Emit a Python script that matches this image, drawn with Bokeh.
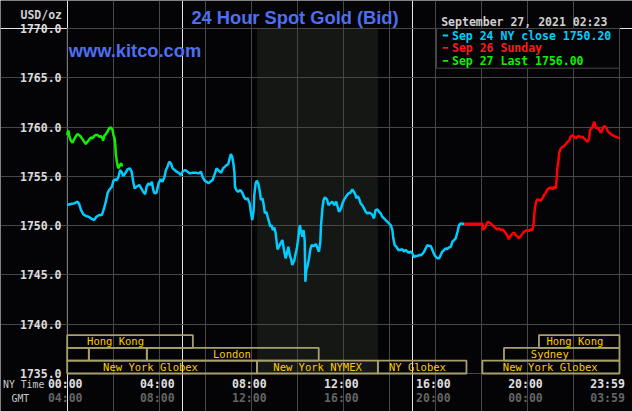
from bokeh.plotting import figure
from bokeh.models import Range1d, FixedTicker, ColumnDataSource, Grid
from bokeh.core.properties import value
from bokeh.embed import file_html
from bokeh.resources import INLINE

# ---------------- data ----------------
sep24_hours = [0.00, 0.16, 0.30, 0.45, 0.52, 0.59, 0.69, 0.81, 0.93, 1.03, 1.17, 1.27, 1.39, 1.51, 1.61, 1.68,
               1.75, 1.82, 1.94, 2.01, 2.09, 2.16, 2.23, 2.30, 2.38, 2.43, 2.52, 2.62, 2.72, 2.80, 2.87, 2.93,
               3.01, 3.13, 3.22, 3.30, 3.39, 3.45, 3.53, 3.62, 3.68, 3.74, 3.80, 3.88, 3.97, 4.06, 4.14, 4.23,
               4.29, 4.36, 4.43, 4.51, 4.58, 4.67, 4.75, 4.83, 4.94, 5.01, 5.13, 5.23, 5.33, 5.45, 5.59, 5.71,
               5.81, 5.88, 5.97, 6.06, 6.14, 6.23, 6.32, 6.42, 6.49, 6.59, 6.69, 6.77, 6.88, 7.00, 7.06, 7.11,
               7.17, 7.23, 7.27, 7.29, 7.35, 7.43, 7.52, 7.61, 7.68, 7.75, 7.84, 7.93, 7.98, 8.04, 8.10, 8.13,
               8.19, 8.24, 8.30, 8.36, 8.42, 8.48, 8.53, 8.59, 8.65, 8.71, 8.77, 8.83, 8.88, 8.94, 9.00, 9.06,
               9.10, 9.14, 9.20, 9.27, 9.35, 9.42, 9.49, 9.55, 9.61, 9.67, 9.72, 9.78, 9.87, 9.93, 9.98, 10.04,
               10.11, 10.16, 10.22, 10.27, 10.32, 10.35, 10.39, 10.45, 10.51, 10.56, 10.62, 10.71, 10.80, 10.88,
               10.94, 11.00, 11.03, 11.09, 11.14, 11.20, 11.29, 11.35, 11.43, 11.52, 11.61, 11.69, 11.75, 11.81,
               11.90, 11.96, 12.04, 12.13, 12.22, 12.30, 12.39, 12.48, 12.53, 12.56, 12.62, 12.68, 12.75, 12.82,
               12.90, 12.97, 13.04, 13.11, 13.19, 13.26, 13.33, 13.40, 13.48, 13.55, 13.62, 13.69, 13.77, 13.84,
               13.91, 13.98, 14.06, 14.13, 14.17, 14.23, 14.30, 14.39, 14.46, 14.56, 14.64, 14.71, 14.78, 14.85,
               14.93, 15.00, 15.07, 15.14, 15.22, 15.29, 15.36, 15.43, 15.51, 15.58, 15.65, 15.72, 15.80, 15.87,
               15.94, 16.01, 16.09, 16.16, 16.23, 16.30, 16.38, 16.45, 16.52, 16.59, 16.67, 16.74, 16.81, 16.88,
               16.96, 17.03, 17.10, 17.17, 17.25]
sep24_values = [1752.09, 1752.19, 1752.26, 1752.43, 1752.19, 1751.65, 1751.18, 1750.97, 1750.90, 1750.74, 1750.57,
                1750.90, 1751.08, 1751.08, 1751.86, 1752.43, 1753.27, 1753.61, 1753.95, 1754.56, 1754.70, 1754.63,
                1754.96, 1755.64, 1755.37, 1755.03, 1755.30, 1755.71, 1755.81, 1755.47, 1754.45, 1753.78, 1753.95,
                1754.12, 1753.78, 1753.44, 1753.20, 1753.95, 1754.29, 1754.12, 1754.45, 1753.61, 1753.27, 1753.34,
                1754.29, 1754.70, 1754.45, 1754.96, 1755.64, 1755.97, 1756.48, 1756.32, 1755.81, 1755.64, 1755.47,
                1755.37, 1755.13, 1755.47, 1755.64, 1755.47, 1755.30, 1755.37, 1755.37, 1755.30, 1755.47, 1754.96,
                1754.56, 1754.45, 1754.29, 1754.49, 1754.63, 1755.30, 1755.81, 1755.57, 1755.37, 1755.81, 1756.04,
                1756.25, 1756.82, 1757.26, 1756.99, 1756.15, 1755.30, 1753.95, 1753.61, 1753.44, 1753.61, 1753.34,
                1752.93, 1752.67, 1752.77, 1752.26, 1751.41, 1750.57, 1751.51, 1753.10, 1754.29, 1754.56, 1754.29,
                1753.61, 1752.60, 1752.77, 1752.26, 1751.25, 1751.41, 1750.90, 1750.40, 1749.89, 1750.06, 1749.55,
                1749.82, 1749.22, 1748.37, 1747.60, 1747.86, 1748.20, 1748.54, 1747.53, 1746.68, 1747.19, 1747.86,
                1747.02, 1746.68, 1746.00, 1746.51, 1747.19, 1747.70, 1748.71, 1750.06, 1749.38, 1748.87, 1749.55,
                1748.54, 1744.31, 1745.50, 1746.00, 1746.68, 1747.53, 1748.03, 1747.93, 1748.13, 1747.70, 1747.36,
                1748.37, 1750.06, 1751.75, 1752.60, 1752.87, 1752.67, 1752.09, 1752.26, 1752.43, 1752.09, 1752.43,
                1751.92, 1751.41, 1751.75, 1752.26, 1752.67, 1753.00, 1753.27, 1753.34, 1753.68, 1753.34, 1753.10,
                1752.77, 1753.00, 1752.77, 1752.26, 1752.09, 1751.75, 1751.41, 1751.25, 1751.31, 1751.25, 1751.08,
                1750.74, 1751.58, 1751.65, 1751.41, 1751.25, 1750.90, 1750.74, 1750.57, 1750.40, 1750.23, 1750.06,
                1749.55, 1748.71, 1748.03, 1747.86, 1747.53, 1747.53, 1747.60, 1747.36, 1747.53, 1747.36, 1747.26,
                1747.36, 1747.19, 1746.78, 1746.92, 1746.92, 1747.02, 1746.99, 1747.12, 1747.36, 1747.70, 1748.03,
                1747.93, 1747.93, 1747.53, 1747.12, 1746.85, 1746.68, 1746.68, 1747.02, 1747.36, 1747.53, 1747.70,
                1747.63, 1747.80, 1747.86, 1748.37, 1748.54, 1748.71, 1749.38, 1750.06, 1750.23, 1750.20, 1750.20]

sep26_hours = [17.25, 18.04, 18.07, 18.11, 18.17, 18.23, 18.29, 18.35, 18.40, 18.48, 18.55, 18.62, 18.69, 18.77,
               18.84, 18.91, 18.98, 19.06, 19.13, 19.19, 19.24, 19.30, 19.36, 19.42, 19.49, 19.56, 19.64, 19.71,
               19.78, 19.85, 19.93, 20.00, 20.07, 20.14, 20.22, 20.26, 20.29, 20.33, 20.38, 20.43, 20.51, 20.58,
               20.65, 20.72, 20.80, 20.87, 20.94, 21.01, 21.09, 21.16, 21.23, 21.27, 21.30, 21.35, 21.39, 21.45,
               21.52, 21.59, 21.67, 21.74, 21.81, 21.88, 21.96, 22.03, 22.10, 22.17, 22.24, 22.32, 22.39, 22.46,
               22.53, 22.61, 22.68, 22.72, 22.78, 22.84, 22.90, 22.94, 22.98, 23.04, 23.11, 23.19, 23.24, 23.30,
               23.36, 23.42, 23.48, 23.55, 23.62, 23.69, 23.77, 23.84, 23.91, 24.00]
sep26_values = [1750.20, 1750.20, 1749.55, 1749.72, 1749.82, 1750.23, 1750.40, 1750.29, 1750.23, 1750.06, 1749.89,
                1749.72, 1749.62, 1749.72, 1749.55, 1749.62, 1749.48, 1749.22, 1748.95, 1748.61, 1748.88, 1749.05,
                1749.22, 1749.29, 1749.05, 1748.88, 1748.71, 1748.95, 1749.15, 1749.38, 1749.48, 1749.55, 1749.48,
                1749.62, 1749.55, 1750.06, 1750.90, 1751.92, 1752.43, 1752.67, 1752.60, 1752.53, 1752.77, 1753.10,
                1753.34, 1753.68, 1753.78, 1753.88, 1753.68, 1753.95, 1753.78, 1754.80, 1755.81, 1756.65, 1757.50,
                1757.84, 1758.00, 1758.07, 1758.28, 1758.51, 1758.61, 1759.02, 1759.19, 1759.02, 1758.85, 1759.02,
                1759.09, 1758.95, 1759.02, 1758.85, 1758.68, 1758.51, 1758.85, 1759.70, 1759.87, 1760.10, 1760.54,
                1760.20, 1759.87, 1759.97, 1759.77, 1759.42, 1759.70, 1760.03, 1760.10, 1759.97, 1759.63, 1759.42,
                1759.29, 1759.19, 1759.09, 1759.02, 1758.95, 1758.88]

sep27_hours = [0.00, 0.03, 0.06, 0.09, 0.16, 0.23, 0.30, 0.38, 0.45, 0.52, 0.59, 0.67, 0.74, 0.81, 0.88, 0.96,
               1.03, 1.10, 1.17, 1.24, 1.32, 1.39, 1.46, 1.53, 1.56, 1.61, 1.68, 1.75, 1.82, 1.90, 1.97, 2.01,
               2.06, 2.09, 2.11, 2.16, 2.20, 2.23, 2.29, 2.35, 2.38]
sep27_values = [1759.19, 1759.53, 1759.63, 1759.09, 1758.61, 1758.41, 1758.75, 1759.09, 1759.29, 1759.19, 1759.02,
                1758.75, 1758.51, 1758.28, 1758.51, 1758.75, 1758.95, 1758.85, 1759.09, 1759.19, 1759.19, 1759.02,
                1759.09, 1758.85, 1758.61, 1759.09, 1759.29, 1759.53, 1759.87, 1759.97, 1759.70, 1759.19, 1758.85,
                1758.17, 1757.33, 1756.48, 1755.97, 1755.81, 1756.15, 1756.32, 1756.00]

y_ticks = [1735.0, 1740.0, 1745.0, 1750.0, 1755.0, 1760.0, 1765.0, 1770.0]
x_tick_hours = [0, 4, 8, 12, 16, 20, 24]
ny_tick_labels = ["00:00", "04:00", "08:00", "12:00", "16:00", "20:00", "23:59"]
gmt_tick_labels = ["04:00", "08:00", "12:00", "16:00", "20:00", "00:00", "03:59"]

legend_labels = ["Sep 24 NY close 1750.20", "Sep 26 Sunday", "Sep 27 Last 1756.00"]
legend_colors = ["#00ccff", "#ff1a1a", "#11ee00"]

nymex_start, nymex_end = 8.25, 13.5
session_names = ["Hong Kong", "Hong Kong", "", "", "London", "Sydney",
                 "New York Globex", "New York NYMEX", "NY Globex", "New York Globex"]
session_start = [0.0, 20.5, 0.0, 0.94, 3.46, 18.98, 0.0, 8.25, 13.5, 18.04]
session_end = [5.46, 24.0, 0.94, 3.46, 10.93, 24.0, 8.25, 13.5, 17.35, 24.0]
session_row = [0, 0, 1, 1, 1, 1, 2, 2, 2, 2]
session_label_at = [2.10, 22.06, 0, 0, 7.16, 20.97, 3.62, 10.88, 15.22, 20.99]

# ---------------- layout helpers (pixel layout -> data coordinates) ----------------
W, H = 632, 411
FL, FR, FT, FB = 66.7, 619.0, 28.0, 373.0          # plot-area box in pixels
X0, X1, Y0, Y1 = 0.0, 24.0, 1735.0, 1770.0          # plot-area box in data units


def px2h(px):
    return X0 + (px - FL) * (X1 - X0) / (FR - FL)


def px2v(py):
    return Y1 - (py - FT) * (Y1 - Y0) / (FB - FT)


BG = "#040406"
GRID = "#474747"
MONO = "DejaVu Sans Mono"

# the drawing frame covers the whole canvas; the plot area is the 0-24h x 1735-1770 box inside it
p = figure(width=W, height=H, output_backend="svg", toolbar_location=None,
           x_range=Range1d(px2h(0), px2h(W)), y_range=Range1d(px2v(H), px2v(0)),
           min_border=0, x_axis_location=None, y_axis_location=None)
p.background_fill_color = BG
p.border_fill_color = BG
p.outline_line_color = None

# NYMEX shading (under the grid)
p.quad(left=[nymex_start], right=[nymex_end], bottom=[Y0], top=[Y1],
       fill_color="#141714", line_color=None, level="underlay")

# grids, limited to the plot area
vgrid = Grid(dimension=0, ticker=FixedTicker(ticks=list(range(2, 24, 2))), bounds=(Y0, Y1),
             grid_line_color=GRID, grid_line_width=1)
hgrid = Grid(dimension=1, ticker=FixedTicker(ticks=y_ticks[1:-1]), bounds=(X0, X1),
             grid_line_color=GRID, grid_line_width=1)
p.add_layout(vgrid, "center")
p.add_layout(hgrid, "center")

# plot-area outline
p.quad(left=[X0], right=[X1], bottom=[Y0], top=[Y1], fill_color=None, line_color=GRID, line_width=1)

# y tick labels
p.text(x=[px2h(61)] * len(y_ticks), y=y_ticks, text=["%.1f" % t for t in y_ticks],
       text_font=value(MONO), text_font_style="bold", text_font_size="11.5px", text_color="#dcdcdc",
       text_align="right", text_baseline="middle")

# x tick labels (sit ~2px left of their hour; last one pulled inside the canvas, as in the original)
shift = px2h(FL - 2) - px2h(FL)
label_pos = [min(h + shift, 23.48) for h in x_tick_hours]
p.text(x=label_pos, y=[px2v(383.5)] * len(label_pos), text=ny_tick_labels,
       text_font=value(MONO), text_font_style="bold", text_font_size="11.5px", text_color="#e0e0e0",
       text_align="center", text_baseline="middle")
p.text(x=label_pos, y=[px2v(397.5)] * len(label_pos), text=gmt_tick_labels,
       text_font=value(MONO), text_font_style="bold", text_font_size="11.5px", text_color="#646464",
       text_align="center", text_baseline="middle")
p.text(x=[px2h(2.5), px2h(11)], y=[px2v(384), px2v(397.5)], text=["NY Time", "GMT"],
       text_font=value(MONO), text_font_size="9.8px", text_color="#c8c8c8",
       text_align="left", text_baseline="middle")

# session boxes
row_edges = [1738.9, 1737.6, 1736.3, 1735.0]
sess = ColumnDataSource(dict(
    left=session_start, right=session_end,
    top=[row_edges[r] for r in session_row], bottom=[row_edges[r + 1] for r in session_row]))
p.quad(left="left", right="right", top="top", bottom="bottom", source=sess,
       fill_color=None, line_color="#a7a06c", line_width=1.8)
lab_idx = [i for i, n in enumerate(session_names) if n]
p.text(x=[session_label_at[i] for i in lab_idx],
       y=[(row_edges[session_row[i]] + row_edges[session_row[i] + 1]) / 2 for i in lab_idx],
       text=[session_names[i] for i in lab_idx],
       text_font=value(MONO), text_font_size="10.5px", text_color="#ffcc00",
       text_align="center", text_baseline="middle")

# price lines
p.line(sep24_hours, sep24_values, line_color="#00ccff", line_width=2.5)
p.line(sep26_hours, sep26_values, line_color="#ff0000", line_width=2.5)
p.line(sep27_hours, sep27_values, line_color="#11ee00", line_width=2.5)

# legend box
p.quad(left=[px2h(436)], right=[X1], top=[Y1], bottom=[px2v(67.7)],
       fill_color=BG, line_color=GRID, line_width=1)
leg_y = [px2v(35), px2v(47.3), px2v(60.3)]
p.segment(x0=[px2h(442.3)] * 3, x1=[px2h(447.7)] * 3, y0=leg_y, y1=leg_y,
          line_color=legend_colors, line_width=1.8)
p.text(x=[px2h(451.5)] * 3, y=leg_y, text=legend_labels, text_color=legend_colors,
       text_font=value(MONO), text_font_style="bold", text_font_size="11.5px",
       text_align="left", text_baseline="middle")

# header texts
p.text(x=[px2h(294.5), px2h(68.3)], y=[px2v(17.0), px2v(49.5)],
       text=["24 Hour Spot Gold (Bid)", "www.kitco.com"],
       text_font=value("Liberation Sans"), text_font_style="bold", text_font_size="18.3px",
       text_color="#4f6ff2", text_align=["center", "left"], text_baseline="alphabetic")
p.text(x=[px2h(20), px2h(440.7)], y=[px2v(14.5), px2v(21)],
       text=["USD/oz", "September 27, 2021 02:23"],
       text_font=value(MONO), text_font_style="bold", text_font_size="11.5px",
       text_color="#d0d0d0", text_align="left", text_baseline="middle")

open("out.html", "w").write(file_html(p, INLINE))
